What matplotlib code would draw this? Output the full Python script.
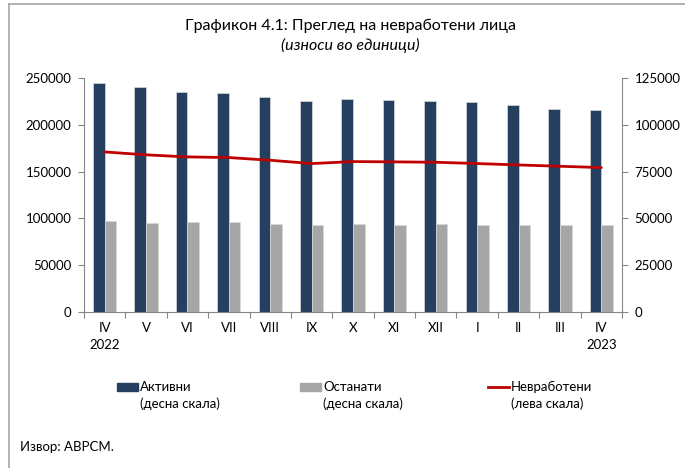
import numpy as np
import matplotlib
matplotlib.use('Agg')
from matplotlib import pyplot as plt
from matplotlib.patches import Rectangle
from matplotlib.lines import Line2D

plt.rcParams['font.family'] = ['Lato', 'DejaVu Sans']

# months Apr 2022 - Apr 2023
months = ['IV', 'V', 'VI', 'VII', 'VIII', 'IX', 'X', 'XI', 'XII', 'I', 'II', 'III', 'IV']
years = ['2022', '', '', '', '', '', '', '', '', '', '', '', '2023']
# right scale
aktivni = [122500, 120200, 117700, 117000, 114800, 112500, 113900, 113400, 112700, 112000, 110700, 108600, 107700]
ostanati = [48400, 47700, 47900, 47900, 46800, 46400, 46800, 46600, 47100, 46300, 46400, 46600, 46600]
# left scale
nevraboteni = [171000, 167900, 165700, 165000, 162100, 158600, 160700, 160400, 160000, 158600, 157100, 155700, 154300]

navy = '#243F60'
grey = '#A6A6A6'
red = '#C00000'
axcol = '#868686'
fs = 9.5

fig = plt.figure(figsize=(6.85, 4.68), dpi=100)
ax = fig.add_axes([84/685, 1 - 312/468, (622-84)/685, (312-78)/468])
ax2 = ax.twinx()

x = np.arange(len(months))
w = 0.28
ax2.bar(x - w/2, aktivni, width=w, color=navy, edgecolor='#D9D9D9', linewidth=0.5, zorder=2)
ax2.bar(x + w/2, ostanati, width=w, color=grey, edgecolor='#D9D9D9', linewidth=0.5, zorder=2)
ax2.set_ylim(0, 125000)
ax2.set_yticks(np.arange(0, 125001, 25000))

# line on top of the bars
ax.set_zorder(ax2.get_zorder() + 1)
ax.patch.set_visible(False)
ax.plot(x, nevraboteni, color=red, linewidth=2, solid_capstyle='round')
ax.set_ylim(0, 250000)
ax.set_yticks(np.arange(0, 250001, 50000))
ax.set_xlim(-0.5, len(months) - 0.5)

# x ticks between categories, labels under categories
ax.set_xticks(np.arange(-0.5, len(months), 1.0))
ax.set_xticklabels([])
ax.tick_params(axis='x', length=4, color=axcol, direction='out')
for i, m in enumerate(months):
    ax.text(i, -0.07, m, transform=ax.get_xaxis_transform(), ha='center', va='center', fontsize=fs)
    if years[i]:
        ax.text(i, -0.14, years[i], transform=ax.get_xaxis_transform(), ha='center', va='center', fontsize=fs)

for a in (ax, ax2):
    a.spines['top'].set_visible(False)
    for s in ['left', 'right', 'bottom']:
        a.spines[s].set_color(axcol)
        a.spines[s].set_linewidth(0.8)
    a.tick_params(axis='y', length=4, color=axcol, labelsize=fs, pad=5)
ax.spines['right'].set_visible(False)
ax2.spines['left'].set_visible(False)
ax2.spines['bottom'].set_visible(False)

# titles
fig.text(350/685, 1 - 26/468, 'Графикон 4.1: Преглед на невработени лица', ha='center', va='center', fontsize=11.5)
fig.text(350/685, 1 - 45/468, '(износи во единици)', ha='center', va='center', fontsize=11.5, style='italic')

# legend drawn by hand
ly = 1 - 387/468
ly2 = 1 - 404/468
entries = [(117, 'Активни', '(десна скала)', navy, 'bar'),
           (300, 'Останати', '(десна скала)', grey, 'bar'),
           (488, 'Невработени', '(лева скала)', red, 'line')]
for px, l1, l2, c, kind in entries:
    x0 = px / 685
    if kind == 'bar':
        fig.add_artist(Rectangle((x0, ly - 4/468), 21/685, 8/468, color=c, transform=fig.transFigure))
    else:
        fig.add_artist(Line2D([x0, x0 + 21/685], [ly, ly], color=c, linewidth=2, transform=fig.transFigure))
    fig.text(x0 + 23/685, ly, l1, ha='left', va='center', fontsize=fs)
    fig.text(x0 + 23/685, ly2, l2, ha='left', va='center', fontsize=fs)

fig.text(20/685, 1 - 447/468, 'Извор: АВРСМ.', ha='left', va='center', fontsize=fs)

# frame lines (top and left)
fig.add_artist(Line2D([9/685, 1], [1 - 4/468, 1 - 4/468], color='#A6A6A6', linewidth=1.2, transform=fig.transFigure))
fig.add_artist(Line2D([9/685, 9/685], [0, 1 - 4/468], color='#A6A6A6', linewidth=1.2, transform=fig.transFigure))

plt.savefig('out.png', dpi=100)
